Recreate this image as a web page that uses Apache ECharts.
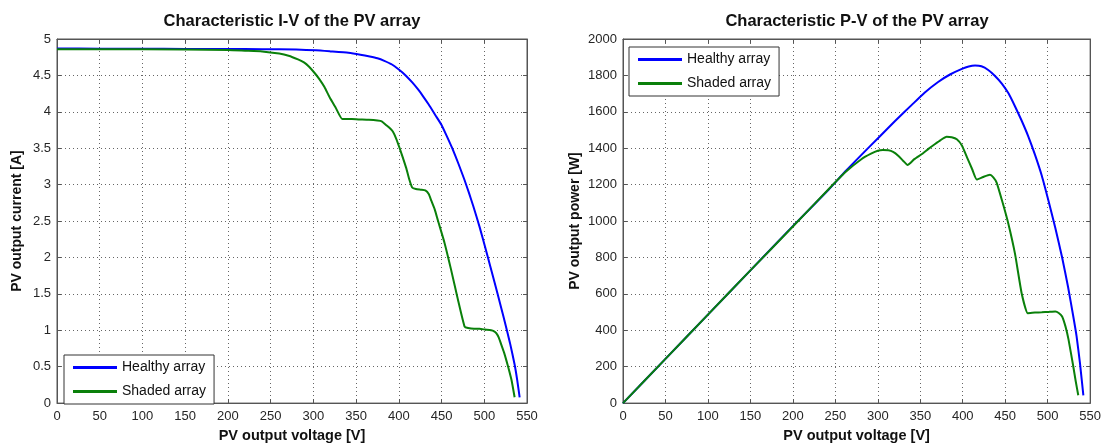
<!DOCTYPE html>
<html><head><meta charset="utf-8">
<script src="https://cdn.jsdelivr.net/npm/echarts@6/dist/echarts.min.js"></script>
<style>html,body{margin:0;padding:0;background:#fff}#c{width:1104px;height:448px}</style>
</head><body><div id="c"></div>
<script>
// ---- Data ----
const titles = ['Characteristic I-V of the PV array', 'Characteristic P-V of the PV array'];
const xName = 'PV output voltage [V]';
const yNames = ['PV output current [A]', 'PV output power [W]'];
const seriesNames = ['Healthy array', 'Shaded array'];

// I-V, healthy array
const ivHealthyV = [0, 50, 100, 150, 200, 240, 280, 303, 320, 341, 355, 366, 375, 383, 392, 400, 408, 416, 423, 428, 435, 443, 450, 456, 462.5, 470, 477, 482, 487, 494.5, 502, 507, 512, 520, 525, 530, 535.5, 538.5, 541.4];
const ivHealthyI = [4.87, 4.866, 4.865, 4.864, 4.862, 4.86, 4.855, 4.845, 4.83, 4.81, 4.785, 4.76, 4.735, 4.70, 4.65, 4.58, 4.50, 4.40, 4.30, 4.22, 4.10, 3.95, 3.82, 3.67, 3.5, 3.28, 3.06, 2.89, 2.71, 2.42, 2.1, 1.88, 1.66, 1.3, 1.07, 0.83, 0.53, 0.32, 0.08];

// I-V, shaded array
const ivShadedV = [0, 100, 200, 220, 240, 260, 271, 282, 289, 295, 301, 307, 313, 319, 326, 334, 345, 355, 365, 375, 380, 385, 389, 393, 397, 401, 405, 408.6, 412, 415.6, 420, 426, 431, 435, 438, 442, 445.7, 453.5, 461, 469, 477, 481, 488, 494.5, 501, 508, 511, 514, 517, 520, 523, 526, 529, 532, 535.5];
const ivShadedI = [4.86, 4.858, 4.85, 4.84, 4.83, 4.80, 4.77, 4.72, 4.68, 4.62, 4.54, 4.45, 4.34, 4.20, 4.06, 3.90, 3.90, 3.895, 3.89, 3.88, 3.87, 3.82, 3.78, 3.73, 3.63, 3.5, 3.36, 3.23, 3.08, 2.96, 2.94, 2.93, 2.92, 2.87, 2.78, 2.66, 2.51, 2.2, 1.84, 1.43, 1.05, 1.03, 1.02, 1.02, 1.01, 1.0, 0.99, 0.96, 0.9, 0.80, 0.70, 0.58, 0.45, 0.31, 0.08];

// P-V, healthy array
const pvHealthyV = [0, 50, 100, 150, 200, 242, 261.6, 281, 300.8, 320, 340, 355, 371, 385, 399, 407, 414.5, 422, 430, 438, 446, 454, 461.6, 469, 477, 485, 493, 501, 509, 517, 524, 530, 534, 538, 542];
const pvHealthyP = [0, 243, 486, 729, 972, 1172, 1272, 1365, 1458, 1548, 1638, 1705, 1764, 1805, 1836, 1849, 1854, 1850, 1830, 1797, 1755, 1700, 1629, 1555, 1467, 1365, 1250, 1110, 962, 800, 638, 480, 368, 220, 43];

// P-V, shaded array
const pvShadedV = [0, 50, 100, 150, 200, 242, 261.6, 281, 292, 300, 306, 312.5, 318, 324, 330, 335, 343, 352, 360, 367, 374, 381, 387, 393, 399, 405, 411, 416.5, 424, 432, 436, 440, 447, 453.7, 461.6, 469.4, 476.5, 485, 493, 501, 509, 513, 517, 521, 524.5, 530, 533, 536];
const pvShadedP = [0, 243, 486, 729, 970, 1175, 1268, 1341, 1370, 1386, 1390, 1389, 1380, 1359, 1330, 1308, 1340, 1368, 1398, 1422, 1445, 1463, 1460, 1449, 1415, 1350, 1286, 1228, 1242, 1254, 1240, 1210, 1100, 985, 818, 602, 494, 497, 499, 501, 503, 495, 476, 420, 350, 205, 120, 43];

// ---- Chart ----
const zip = (a, b) => a.map((v, i) => [v, b[i]]);
const FONT = 'Liberation Sans, Arial, sans-serif';
const TXT = '#262626';
const BORDER = '#555';
const grids = [
  {left: 57, top: 39, width: 470, height: 369},
  {left: 623, top: 39, width: 469, height: 369}
];
const yRanges = [{min: 0, max: 5, interval: 0.5}, {min: 0, max: 2000, interval: 200}];
const yGaps = [33, 41];

const xAxes = [], yAxes = [];
[0, 1].forEach(g => {
  xAxes.push({
    type: 'value', gridIndex: g, position: 'bottom', min: 0, max: 550, interval: 50,
    name: xName, nameLocation: 'middle', nameGap: 21,
    nameTextStyle: {fontFamily: FONT, fontWeight: 'bold', fontSize: 14.5, color: '#111'},
    axisLine: {show: true, onZero: false, lineStyle: {color: BORDER}},
    axisTick: {show: true, inside: true, length: 4, lineStyle: {color: BORDER}},
    axisLabel: {fontFamily: FONT, fontSize: 13, color: TXT, margin: 7, formatter: v => String(v)},
    splitLine: {show: true, lineStyle: {color: '#666', type: [1, 3], width: 1}}
  });
  xAxes.push({
    type: 'value', gridIndex: g, position: 'top', min: 0, max: 550, interval: 50,
    axisLine: {show: true, onZero: false, lineStyle: {color: BORDER}},
    axisTick: {show: true, inside: true, length: 4, lineStyle: {color: BORDER}},
    axisLabel: {show: false}, splitLine: {show: false}
  });
  yAxes.push(Object.assign({
    type: 'value', gridIndex: g, position: 'left',
    name: yNames[g], nameLocation: 'middle', nameGap: yGaps[g], nameRotate: 90,
    nameTextStyle: {fontFamily: FONT, fontWeight: 'bold', fontSize: 14, color: '#111'},
    axisLine: {show: true, onZero: false, lineStyle: {color: BORDER}},
    axisTick: {show: true, inside: true, length: 4, lineStyle: {color: BORDER}},
    axisLabel: {fontFamily: FONT, fontSize: 13, color: TXT, margin: 6, formatter: v => String(v)},
    splitLine: {show: true, lineStyle: {color: '#666', type: [1, 3], width: 1}}
  }, yRanges[g]));
  yAxes.push(Object.assign({
    type: 'value', gridIndex: g, position: 'right',
    axisLine: {show: true, onZero: false, lineStyle: {color: BORDER}},
    axisTick: {show: true, inside: true, length: 4, lineStyle: {color: BORDER}},
    axisLabel: {show: false}, splitLine: {show: false}
  }, yRanges[g]));
});

const colors = ['#0000ff', '#0a800a'];
const mk = (name, data, ax, c) => ({
  name, type: 'line', data, xAxisIndex: ax, yAxisIndex: ax,
  symbol: 'none', smooth: 0.15,
  lineStyle: {width: 2, color: c}, itemStyle: {color: c},
  animation: false
});
const series = [
  mk(seriesNames[0], zip(ivHealthyV, ivHealthyI), 0, colors[0]),
  mk(seriesNames[1], zip(ivShadedV, ivShadedI), 0, colors[1]),
  mk(seriesNames[0], zip(pvHealthyV, pvHealthyP), 2, colors[0]),
  mk(seriesNames[1], zip(pvShadedV, pvShadedP), 2, colors[1])
];

const legendBase = {
  orient: 'vertical', data: seriesNames, icon: 'rect', itemWidth: 44, itemHeight: 3, itemGap: 7,
  padding: [4, 8, 4, 9], borderColor: '#333', borderWidth: 1, borderRadius: 0,
  backgroundColor: '#fff', selectedMode: false,
  textStyle: {fontFamily: FONT, fontSize: 14, color: '#111', lineHeight: 17}
};

const chart = echarts.init(document.getElementById('c'), null, {renderer: 'canvas'});
chart.setOption({
  animation: false,
  backgroundColor: '#fff',
  title: [
    {text: titles[0], left: 292, top: 13, textAlign: 'center', padding: 0,
     textStyle: {fontFamily: FONT, fontWeight: 'bold', fontSize: 16.5, color: '#111'}},
    {text: titles[1], left: 857, top: 13, textAlign: 'center', padding: 0,
     textStyle: {fontFamily: FONT, fontWeight: 'bold', fontSize: 16.5, color: '#111'}}
  ],
  grid: grids.map(g => Object.assign({show: true, borderColor: BORDER, borderWidth: 1, backgroundColor: '#fff'}, g)),
  xAxis: xAxes,
  yAxis: yAxes,
  legend: [
    Object.assign({left: 64, top: 355}, legendBase),
    Object.assign({left: 629, top: 47}, legendBase)
  ],
  series
});
</script></body></html>
